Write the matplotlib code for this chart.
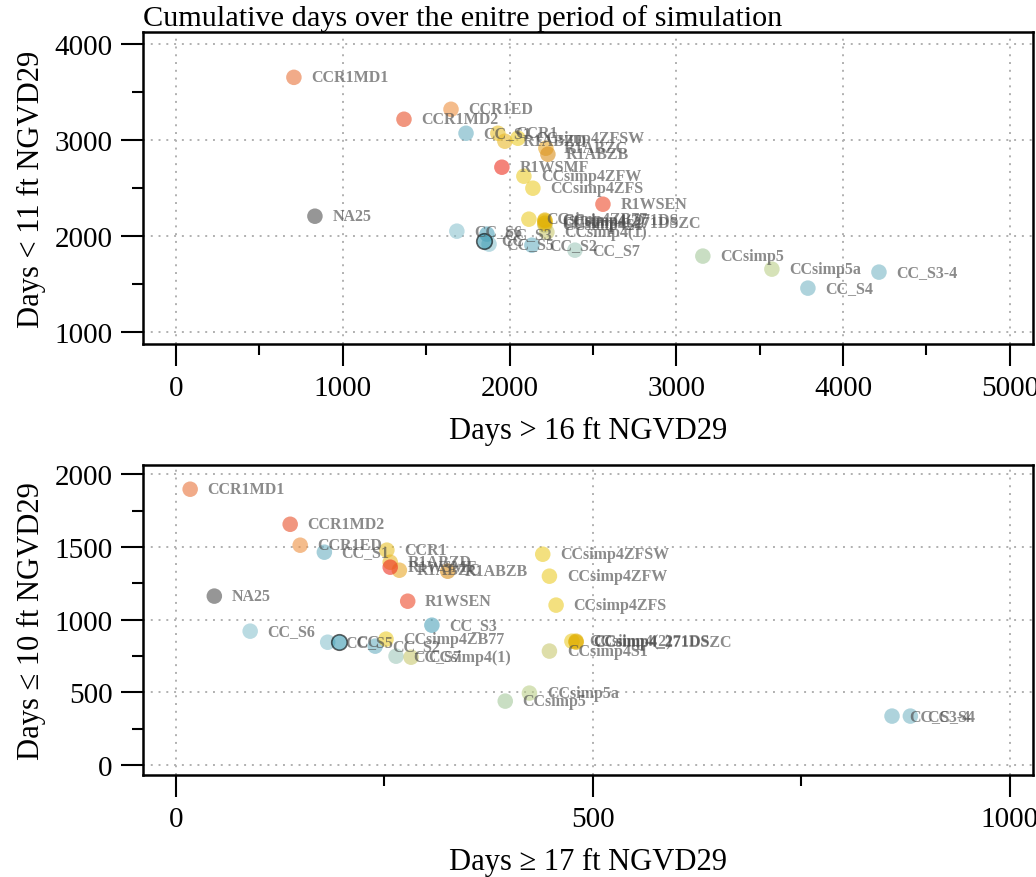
import numpy as np
import matplotlib
matplotlib.use('Agg')
import matplotlib.pyplot as plt
from matplotlib.ticker import MultipleLocator

plt.rcParams['font.family'] = ['Liberation Serif', 'DejaVu Serif']

# scenario names and colours
names = ['CCR1MD1', 'CCR1MD2', 'CCR1ED', 'CCR1', 'R1ABZD', 'R1ABZC', 'R1ABZB',
         'R1WSMF', 'R1WSEN', 'NA25', 'CC_S1', 'CC_S2', 'CC_S3', 'CC_S5', 'CC_S6',
         'CC_S7', 'CC_S4', 'CC_S3-4', 'CC', 'CCsimp4ZFSW', 'CCsimp4ZFW',
         'CCsimp4ZFS', 'CCsimp4ZB77', 'CCsimp4(1)', 'CCsimp4S1', 'CCsimp4(2)',
         'CCsimp4_271DS', 'CCsimp4_271DSZC', 'CCsimp5', 'CCsimp5a']
cols = ['#E8743B', '#E8502A', '#EE9040', '#E8C02A', '#E8B828', '#E8A828', '#D98E1A',
        '#EE3020', '#EE4A2A', '#505050', '#6BB0C2', '#6BB0C2', '#4EA3BA', '#8CC3D0', '#8CC3D0',
        '#A0C8BC', '#78B7C5', '#78B7C5', '#3B9AB2', '#EBCC2A', '#EBCC2A',
        '#EBCC2A', '#EBCC2A', '#C8C870', '#C8C870', '#EBCC2A',
        '#E1AF00', '#E1AF00', '#A5C89C', '#BCD08A']
edges = ['none'] * 18 + ['black'] + ['none'] * 11

# top panel: days > 16 ft vs days < 11 ft
gt16 = [707, 1367, 1649, 1930, 1972, 2218, 2230, 1954, 2560, 833, 1739, 2134, 1865, 1877, 1684,
        2392, 3789, 4215, 1847, 2050, 2086, 2140, 2116, 2224, 2212, 2212, 2212, 2212, 3159, 3573]
lt11 = [3656, 3219, 3323, 3073, 2990, 2917, 2854, 2719, 2333, 2208, 3073, 1906, 2021, 1917, 2052,
        1854, 1458, 1625, 1948, 3021, 2625, 2500, 2177, 2042, 2115, 2156, 2167, 2135, 1792, 1656]

# bottom panel: days >= 17 ft vs days <= 10 ft
ge17 = [17, 137, 149, 253, 257, 268, 326, 257, 278, 46, 178, 239, 307, 182, 89,
        264, 881, 859, 196, 440, 448, 456, 252, 282, 448, 475, 480, 480, 395, 424]
le10 = [1897, 1656, 1512, 1478, 1395, 1340, 1333, 1361, 1127, 1162, 1464, 818, 962, 845, 921,
        749, 337, 337, 845, 1450, 1299, 1100, 866, 742, 784, 852, 852, 845, 440, 495]

fig = plt.figure(figsize=(10.36, 8.78), dpi=100)
ax1 = fig.add_axes([0.138, 0.607, 0.859, 0.355])
ax2 = fig.add_axes([0.138, 0.116, 0.859, 0.353])


def panel(ax, x, y, xlim, ylim, xmaj, xmin, ymaj, ymin, xlab, ylab):
    for i in range(len(names)):
        ax.scatter(x[i], y[i], s=125, color=cols[i], alpha=0.6,
                   edgecolors=edges[i], linewidths=1.2, zorder=3)
        ax.annotate(names[i], (x[i], y[i]), xytext=(12.5, 0), textcoords='offset points',
                    ha='left', va='center', fontsize=11.5, fontweight='bold',
                    color='#4d4d4d', alpha=0.65, zorder=4)
    ax.set_xlim(xlim)
    ax.set_ylim(ylim)
    ax.xaxis.set_major_locator(MultipleLocator(xmaj))
    ax.xaxis.set_minor_locator(MultipleLocator(xmin))
    ax.yaxis.set_major_locator(MultipleLocator(ymaj))
    ax.yaxis.set_minor_locator(MultipleLocator(ymin))
    ax.grid(True, which='major', linestyle=(0, (1, 3)), color='#b0b0b0', lw=1.4, zorder=0)
    ax.tick_params(which='major', length=16, width=1.5, labelsize=21, pad=6)
    ax.tick_params(which='minor', length=8, width=1.5)
    for s in ax.spines.values():
        s.set_linewidth(1.8)
    ax.set_xlabel(xlab, fontsize=22, labelpad=11)
    ax.set_ylabel(ylab, fontsize=22, labelpad=6)


panel(ax1, gt16, lt11, (-198, 5138), (875, 4125), 1000, 500, 1000, 500,
      'Days > 16 ft NGVD29', 'Days < 11 ft NGVD29')
panel(ax2, ge17, le10, (-39.6, 1028), (-69, 2062), 500, 250, 500, 250,
      'Days \u2265 17 ft NGVD29', 'Days \u2264 10 ft NGVD29')

fig.text(0.138, 0.979, 'Cumulative days over the enitre period of simulation',
         fontsize=21.8, ha='left', va='center')

fig.savefig('out.png', dpi=100)
